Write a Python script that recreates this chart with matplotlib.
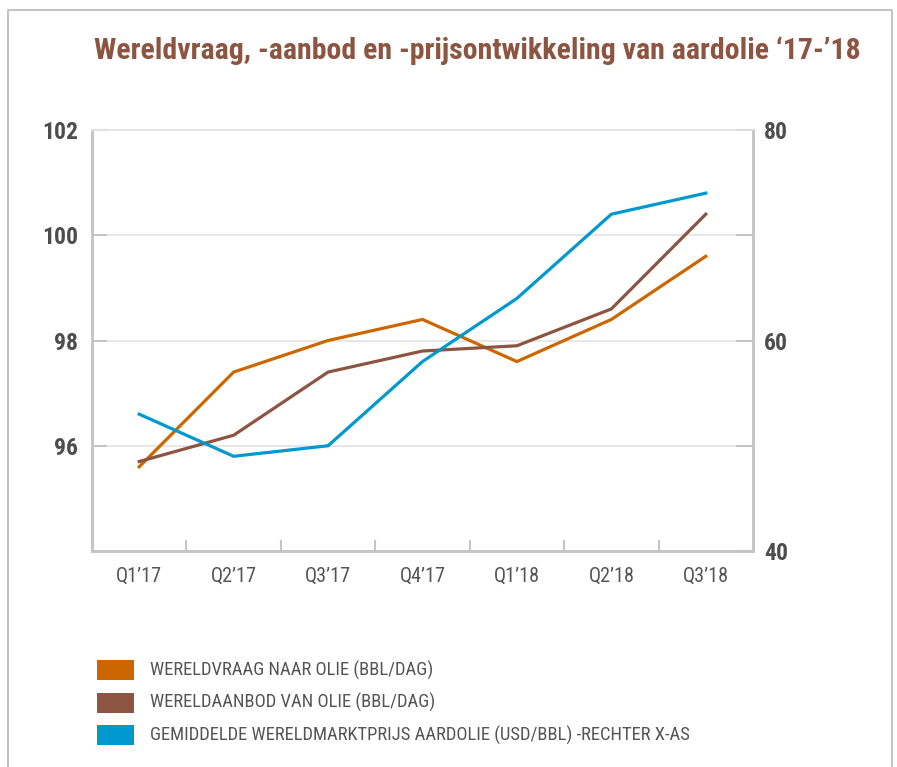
import matplotlib
matplotlib.use("Agg")
import matplotlib.pyplot as plt
import matplotlib.patches as mpatches
import matplotlib.lines as mlines

plt.rcParams["font.family"] = ["Roboto Condensed", "Liberation Sans Narrow",
                               "Roboto", "DejaVu Sans"]

# data
quarters = ["Q1\u201917", "Q2\u201917", "Q3\u201917", "Q4\u201917",
            "Q1\u201918", "Q2\u201918", "Q3\u201918"]
vraag = [95.6, 97.4, 98.0, 98.4, 97.6, 98.4, 99.6]      # mln bbl/dag
aanbod = [95.7, 96.2, 97.4, 97.8, 97.9, 98.6, 100.4]   # mln bbl/dag
prijs = [53.0, 49.0, 50.0, 58.0, 64.0, 72.0, 74.0]     # USD/bbl (right axis)

legend_labels = [
    "WERELDVRAAG NAAR OLIE (BBL/DAG)",
    "WERELDAANBOD VAN OLIE (BBL/DAG)",
    "GEMIDDELDE WERELDMARKTPRIJS AARDOLIE (USD/BBL) -RECHTER X-AS",
]

C_ORANGE = "#CC6600"
C_BROWN = "#8C5542"
C_BLUE = "#0099CF"
C_TITLE = "#8C5542"
C_TEXT = "#555555"
C_SPINE = "#c4c4c4"
C_GRID = "#e3e3e3"

fig = plt.figure(figsize=(8.97, 7.67), dpi=100)
ax = fig.add_axes([92 / 897, 216 / 767, 661 / 897, 421 / 767])
ax2 = ax.twinx()

x = range(len(quarters))
ax.plot(x, vraag, color=C_ORANGE, lw=2.3, zorder=3, solid_joinstyle="miter")
ax.plot(x, aanbod, color=C_BROWN, lw=2.3, zorder=3, solid_joinstyle="miter")
ax2.plot(x, prijs, color=C_BLUE, lw=2.3, zorder=3, solid_joinstyle="miter")

ax.set_xlim(-0.5, 6.5)
ax.set_ylim(94, 102)
ax2.set_ylim(40, 80)

# left axis
ax.set_yticks([96, 98, 100, 102])
ax.set_yticklabels(["96", "98", "100", "102"])
ax.tick_params(axis="y", direction="in", length=11, width=1.5, color=C_SPINE,
               labelsize=17, labelcolor="#4d4d4d", pad=10)
for lab in ax.get_yticklabels():
    lab.set_fontweight("bold")
ax.grid(axis="y", color=C_GRID, lw=1.2, zorder=0)

# right axis
ax2.set_yticks([40, 50, 60, 70, 80])
ax2.set_yticklabels(["40", "", "60", "", "80"])
ax2.tick_params(axis="y", direction="in", length=12, width=1.5, color=C_SPINE,
                labelsize=17, labelcolor="#4d4d4d", pad=8)
for lab in ax2.get_yticklabels():
    lab.set_fontweight("bold")

# x axis: labels centred, small ticks between quarters
ax.set_xticks(list(x))
ax.set_xticklabels(quarters)
ax.set_xticks([i + 0.5 for i in range(len(quarters) - 1)], minor=True)
ax.tick_params(axis="x", which="major", length=0, labelsize=14.5,
               labelcolor=C_TEXT, pad=11)
ax.tick_params(axis="x", which="minor", direction="in", length=8, width=1.5,
               color=C_SPINE)

for a in (ax, ax2):
    for side in ("left", "right", "bottom"):
        a.spines[side].set_color(C_SPINE)
        a.spines[side].set_linewidth(1.8)
    a.spines["top"].set_color(C_GRID)
    a.spines["top"].set_linewidth(1.2)

fig.text(477 / 897, 1 - 51 / 767,
         "Wereldvraag, -aanbod en -prijsontwikkeling van aardolie \u201817-\u201918",
         ha="center", va="center", fontsize=21.5, fontweight="bold",
         color=C_TITLE)

# legend drawn by hand
colors = [C_ORANGE, C_BROWN, C_BLUE]
for i, (lab, col) in enumerate(zip(legend_labels, colors)):
    yc = 670 + i * 32.5
    fig.patches.append(mpatches.Rectangle(
        (97 / 897, 1 - (yc + 10) / 767), 37 / 897, 20 / 767,
        transform=fig.transFigure, facecolor=col, edgecolor="none"))
    fig.text(150 / 897, 1 - yc / 767, lab, ha="left", va="center",
             fontsize=13.4, color=C_TEXT)

# outer frame (left, top, right)
frame = mlines.Line2D([8 / 897, 8 / 897, 892 / 897, 892 / 897],
                      [0, 1 - 10 / 767, 1 - 10 / 767, 0],
                      transform=fig.transFigure, color="#bdbdbd", lw=1.3)
fig.lines.append(frame)

fig.savefig("out.png", dpi=100)
